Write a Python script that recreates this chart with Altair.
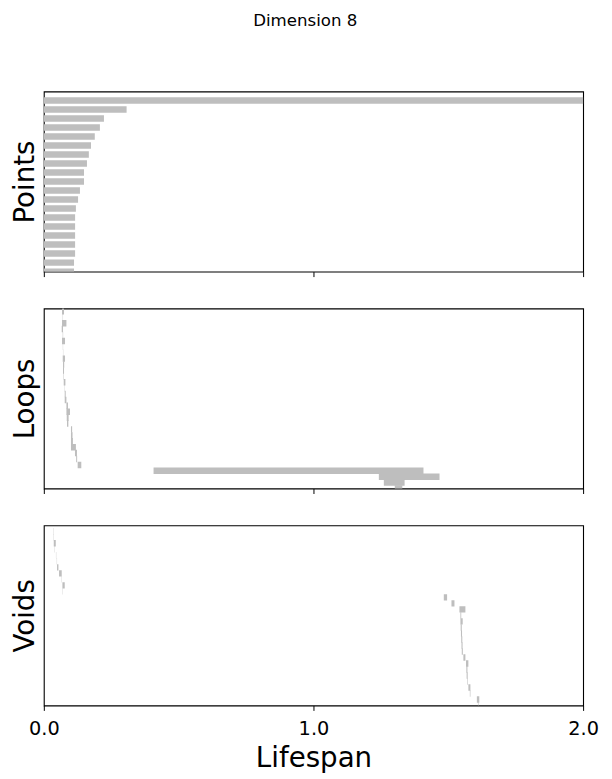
import altair as alt
import pandas as pd

# Points (H0): all born at 0
points_birth = [0.0] * 20
points_death = [2.2, 0.307, 0.223, 0.208, 0.189, 0.175, 0.167, 0.160, 0.149, 0.149,
                0.134, 0.127, 0.119, 0.116, 0.116, 0.116, 0.116, 0.116, 0.112, 0.112]

# Loops (H1)
loops_birth = [0.0675, 0.0700, 0.0675, 0.0664, 0.0701, 0.0675, 0.0705, 0.0710, 0.0701, 0.0712,
               0.0712, 0.0720, 0.0738, 0.0750, 0.0775, 0.0775, 0.0838, 0.0838, 0.0850, 0.0860,
               0.1007, 0.1007, 0.1007, 0.1007, 0.1155, 0.1200, 0.1255, 0.4070, 1.2425, 1.2610,
               1.3015]
loops_death = [0.0749, 0.0712, 0.0838, 0.0712, 0.0716, 0.0786, 0.0715, 0.0720, 0.0786, 0.0756,
               0.0749, 0.0735, 0.0800, 0.0760, 0.0812, 0.0838, 0.0897, 0.0970, 0.0920, 0.0910,
               0.1050, 0.1065, 0.1080, 0.1190, 0.1229, 0.1236, 0.1390, 1.4080, 1.4675, 1.3380,
               1.3295]

# Voids (H2)
voids_birth = [0.0350, 0.0360, 0.0369, 0.0400, 0.0450, 0.0480, 0.0490, 0.0565, 0.0660, 0.0690,
               0.0700, 1.4834, 1.5118, 1.5413, 1.5450, 1.5450, 1.5460, 1.5470, 1.5480, 1.5490,
               1.5500, 1.5560, 1.5657, 1.5670, 1.5680, 1.5710, 1.5745, 1.5800, 1.6060, 1.6100]
voids_death = [0.0360, 0.0370, 0.0443, 0.0410, 0.0460, 0.0490, 0.0542, 0.0664, 0.0670, 0.0775,
               0.0710, 1.4956, 1.5229, 1.5635, 1.5480, 1.5535, 1.5500, 1.5510, 1.5520, 1.5530,
               1.5540, 1.5635, 1.5745, 1.5710, 1.5720, 1.5730, 1.5820, 1.5820, 1.6150, 1.6120]

panel_titles = ["Points", "Loops", "Voids"]
y_domains = [[-1, 19], [-0.5, 30], [-1, 29]]
x_ticks = [0, 1, 2]

FONT = "DejaVu Sans"
BAR_COLOR = "#bebebe"


def panel(births, deaths, name, ydom, bottom):
    df = pd.DataFrame({"birth": births, "death": deaths, "idx": list(range(len(births)))})
    x_axis = alt.Axis(
        values=x_ticks, format=".1f", tickSize=5, tickColor="black", tickWidth=1,
        domain=False, grid=False, labels=bottom, labelFlush=False,
        labelFontSize=19.4, labelFont=FONT, labelColor="black", labelPadding=9,
        title="Lifespan" if bottom else None,
        titleFontSize=27.8, titleFont=FONT, titleFontWeight="normal", titleColor="black",
        titlePadding=7,
    )
    y_axis = alt.Axis(
        ticks=False, labels=False, domain=False, grid=False,
        title=name, titleFontSize=27.8, titleFont=FONT, titleFontWeight="normal",
        titleColor="black", titlePadding=4,
    )
    return alt.Chart(df).mark_rule(
        strokeWidth=6.5, color=BAR_COLOR, clip=True, strokeCap="butt"
    ).encode(
        x=alt.X("birth:Q", scale=alt.Scale(domain=[0, 2], nice=False, zero=False), axis=x_axis),
        x2="death:Q",
        y=alt.Y("idx:Q", scale=alt.Scale(domain=ydom, reverse=True, nice=False, zero=False),
                axis=y_axis),
    ).properties(width=542, height=181)


charts = [
    panel(points_birth, points_death, panel_titles[0], y_domains[0], False),
    panel(loops_birth, loops_death, panel_titles[1], y_domains[1], False),
    panel(voids_birth, voids_death, panel_titles[2], y_domains[2], True),
]

chart = alt.vconcat(*charts, spacing=29).properties(
    title=alt.TitleParams("Dimension 8", fontSize=16.7, font=FONT, fontWeight="normal",
                          color="black", anchor="middle", offset=62),
    padding={"left": 3, "top": 2, "right": 5, "bottom": 5},
).configure_view(stroke="black", strokeWidth=1.1)

chart.save("out.html", embed_options={"renderer": "svg", "actions": False})
